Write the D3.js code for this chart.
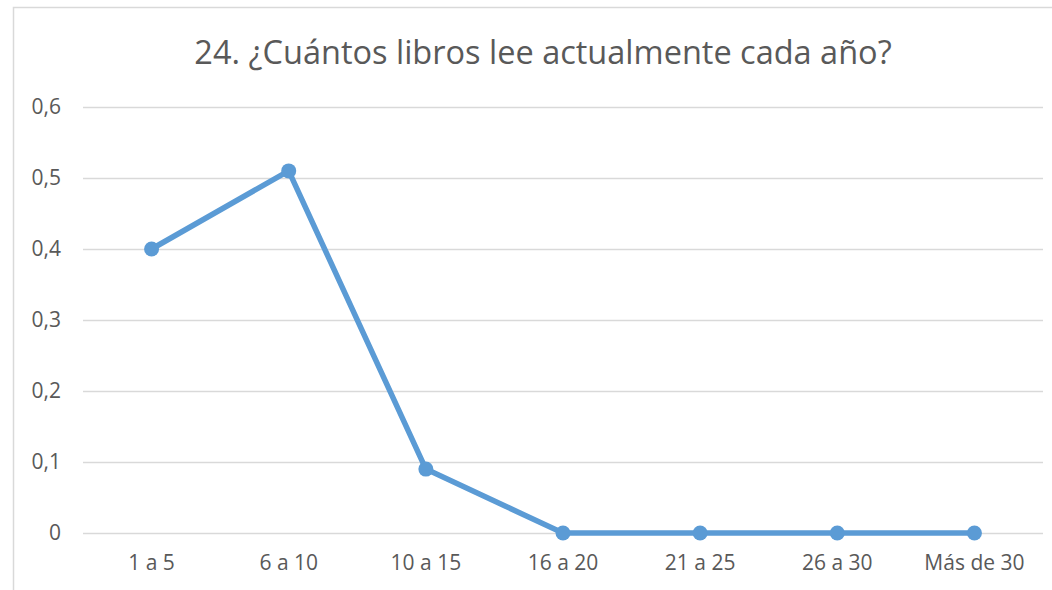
<!DOCTYPE html>
<html>
<head>
<meta charset="utf-8">
<script src="https://cdn.jsdelivr.net/npm/d3@7"></script>
<style>
  body { margin: 0; background: #fff; }
  svg { display: block; font-family: "Open Sans", sans-serif; }
</style>
</head>
<body>
<svg id="chart"></svg>
<script>
// Data
const categories = ['1 a 5', '6 a 10', '10 a 15', '16 a 20', '21 a 25', '26 a 30', 'Más de 30'];
const values = [0.40, 0.51, 0.09, 0, 0, 0, 0];
const yTicks = [0, 0.1, 0.2, 0.3, 0.4, 0.5, 0.6];
const title = '24. ¿Cuántos libros lee actualmente cada año?';

const width = 1052, height = 590;
const margin = {top: 107, right: 9, bottom: 57, left: 83};
const innerW = width - margin.left - margin.right;
const innerH = height - margin.top - margin.bottom;

const svg = d3.select('#chart')
    .attr('width', width)
    .attr('height', height);

// Outer chart frame
svg.append('rect')
    .attr('x', 13.5).attr('y', 7.5)
    .attr('width', width + 10).attr('height', height + 10)
    .attr('fill', 'none')
    .attr('stroke', '#d9d9d9')
    .attr('stroke-width', 1.5);

svg.append('text')
    .attr('x', 543).attr('y', 64)
    .attr('text-anchor', 'middle')
    .attr('fill', '#595959')
    .style('font-size', '32.5px')
    .text(title);

const chart = svg.append('g')
    .attr('transform', `translate(${margin.left},${margin.top})`);

const xScale = d3.scaleBand()
    .domain(categories)
    .range([0, innerW]);

const yScale = d3.scaleLinear()
    .domain([0, 0.6])
    .range([innerH, 0]);

const fmt = d => d3.format('.1~f')(d).replace('.', ',');

// Gridlines + y labels
const yAxis = d3.axisLeft(yScale)
    .tickValues(yTicks)
    .tickSize(-innerW)
    .tickPadding(22)
    .tickFormat(fmt);

chart.append('g')
    .attr('class', 'y-axis')
    .call(yAxis)
    .call(g => g.select('.domain').remove())
    .call(g => g.selectAll('.tick line').attr('stroke', '#d9d9d9').attr('stroke-width', 1.3))
    .call(g => g.selectAll('.tick text')
        .attr('fill', '#595959')
        .style('font-size', '21px')
        .style('font-family', '"Open Sans", sans-serif'));

// X labels
const xAxis = d3.axisBottom(xScale)
    .tickSize(0)
    .tickPadding(22);

chart.append('g')
    .attr('class', 'x-axis')
    .attr('transform', `translate(0,${innerH})`)
    .call(xAxis)
    .call(g => g.select('.domain').remove())
    .call(g => g.selectAll('.tick text')
        .attr('fill', '#595959')
        .style('font-size', '21px')
        .style('font-family', '"Open Sans", sans-serif'));

const xPos = (d, i) => xScale(categories[i]) + xScale.bandwidth() / 2;

const line = d3.line()
    .x(xPos)
    .y(d => yScale(d));

chart.append('path')
    .datum(values)
    .attr('fill', 'none')
    .attr('stroke', '#5b9bd5')
    .attr('stroke-width', 5.5)
    .attr('stroke-linejoin', 'round')
    .attr('d', line);

chart.selectAll('.dot')
    .data(values)
    .join('circle')
    .attr('class', 'dot')
    .attr('cx', xPos)
    .attr('cy', d => yScale(d))
    .attr('r', 7.5)
    .attr('fill', '#5b9bd5');
</script>
</body>
</html>
